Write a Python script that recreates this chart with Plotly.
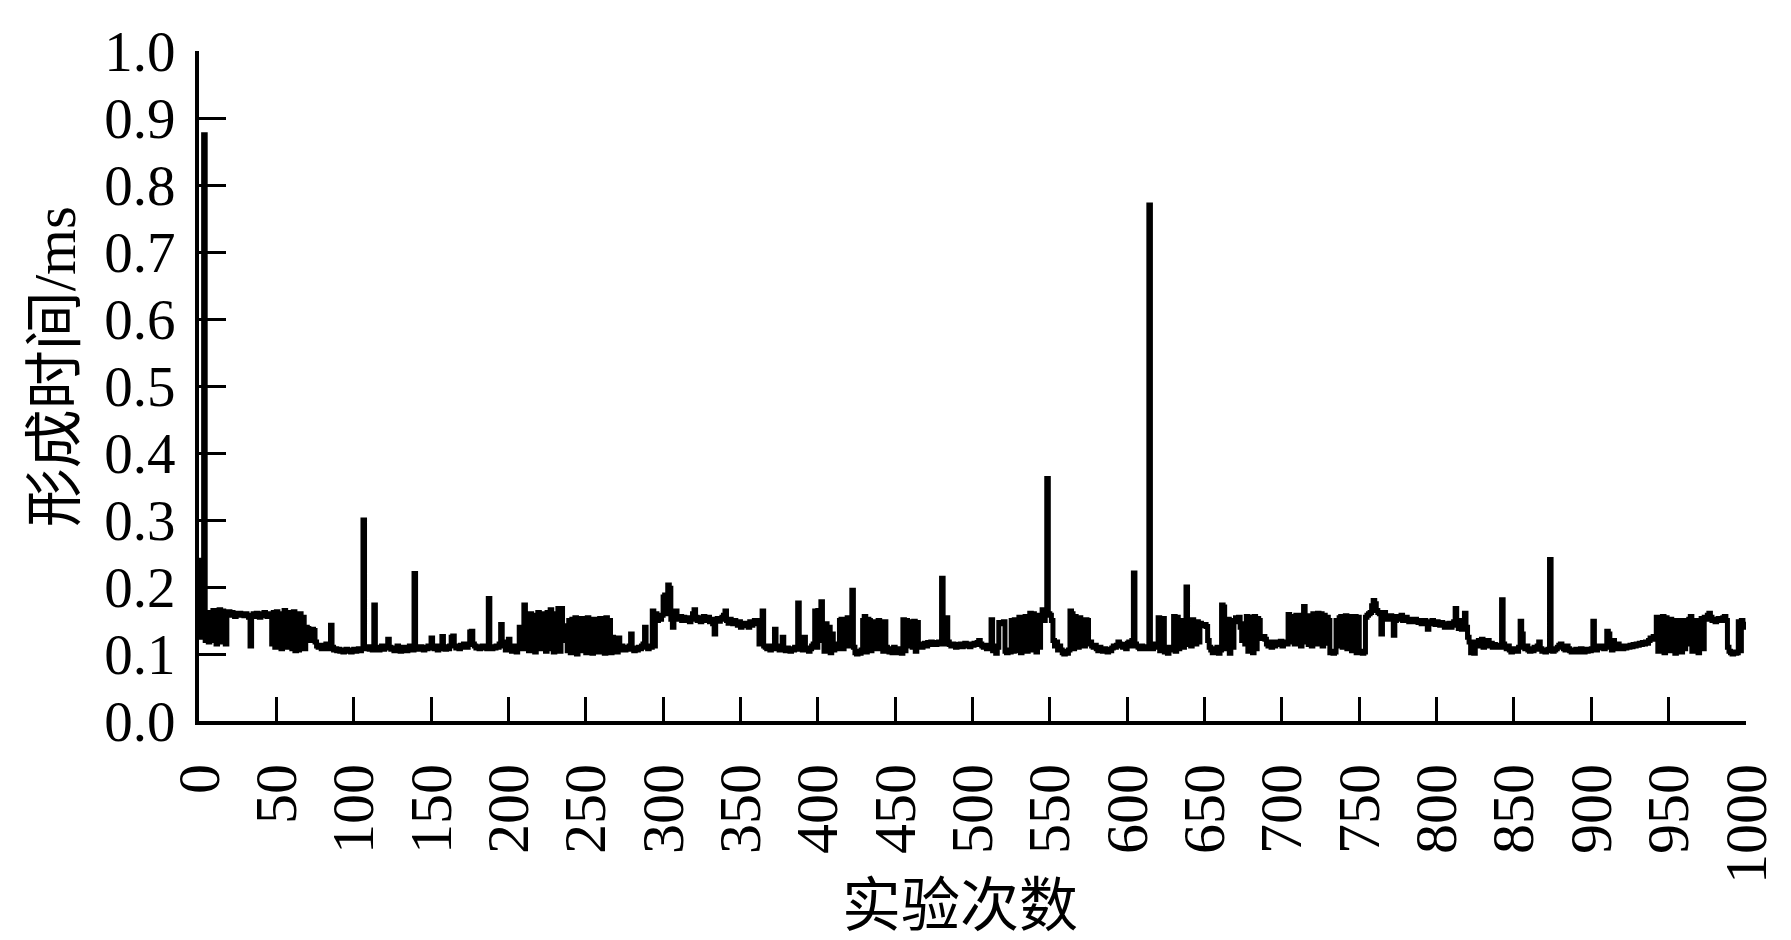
import plotly.graph_objects as go

# Experiment index (0..999)
trial_index = list(range(1000))

# Formation time (ms)
formation_time_ms = [
    0.125, 0.240, 0.130, 0.875, 0.120, 0.160, 0.118, 0.162, 0.120, 0.165, 0.163, 0.115, 0.160, 0.166, 0.118, 0.164, 0.162, 0.115, 0.160, 0.163, 0.158, 0.162, 0.160, 0.156, 0.161,
    0.159, 0.161, 0.158, 0.160, 0.157, 0.160, 0.158, 0.155, 0.112, 0.158, 0.160, 0.156, 0.161, 0.158, 0.155, 0.160, 0.157, 0.162, 0.159, 0.156, 0.160, 0.158, 0.115, 0.162, 0.110,
    0.163, 0.112, 0.160, 0.108, 0.158, 0.165, 0.110, 0.162, 0.115, 0.160, 0.108, 0.163, 0.105, 0.158, 0.106, 0.160, 0.110, 0.155, 0.108, 0.140, 0.138, 0.136, 0.120, 0.137, 0.135,
    0.118, 0.112, 0.110, 0.113, 0.108, 0.112, 0.110, 0.115, 0.108, 0.112, 0.143, 0.110, 0.106, 0.108, 0.105, 0.107, 0.104, 0.106, 0.103, 0.105, 0.107, 0.104, 0.106, 0.103, 0.105,
    0.107, 0.104, 0.106, 0.108, 0.105, 0.108, 0.300, 0.110, 0.108, 0.111, 0.107, 0.109, 0.106, 0.173, 0.108, 0.110, 0.106, 0.108, 0.112, 0.107, 0.109, 0.112, 0.122, 0.110, 0.107,
    0.109, 0.105, 0.108, 0.112, 0.106, 0.104, 0.108, 0.110, 0.107, 0.105, 0.109, 0.112, 0.108, 0.106, 0.220, 0.108, 0.110, 0.107, 0.111, 0.108, 0.106, 0.110, 0.108, 0.112, 0.109,
    0.124, 0.110, 0.108, 0.112, 0.106, 0.110, 0.108, 0.126, 0.110, 0.107, 0.111, 0.108, 0.112, 0.125, 0.127, 0.112, 0.109, 0.111, 0.108, 0.113, 0.110, 0.115, 0.112, 0.110, 0.114,
    0.133, 0.134, 0.115, 0.112, 0.109, 0.111, 0.108, 0.110, 0.112, 0.109, 0.111, 0.108, 0.183, 0.110, 0.108, 0.111, 0.109, 0.112, 0.110, 0.115, 0.144, 0.118, 0.112, 0.106, 0.110,
    0.122, 0.108, 0.104, 0.112, 0.106, 0.103, 0.110, 0.140, 0.115, 0.108, 0.173, 0.112, 0.158, 0.105, 0.160, 0.110, 0.155, 0.103, 0.158, 0.162, 0.108, 0.160, 0.112, 0.157, 0.104,
    0.162, 0.108, 0.166, 0.155, 0.103, 0.160, 0.110, 0.168, 0.104, 0.168, 0.140, 0.120, 0.142, 0.105, 0.150, 0.102, 0.152, 0.108, 0.154, 0.100, 0.150, 0.105, 0.153, 0.110, 0.148,
    0.102, 0.154, 0.106, 0.150, 0.101, 0.152, 0.108, 0.149, 0.103, 0.153, 0.105, 0.150, 0.101, 0.154, 0.108, 0.150, 0.102, 0.125, 0.108, 0.122, 0.103, 0.124, 0.106, 0.112, 0.108,
    0.106, 0.110, 0.107, 0.112, 0.130, 0.108, 0.105, 0.109, 0.106, 0.110, 0.108, 0.112, 0.115, 0.140, 0.110, 0.108, 0.112, 0.110, 0.164, 0.112, 0.160, 0.150, 0.155, 0.152, 0.158,
    0.185, 0.188, 0.160, 0.203, 0.198, 0.152, 0.140, 0.160, 0.164, 0.155, 0.152, 0.156, 0.150, 0.155, 0.153, 0.150, 0.154, 0.148, 0.152, 0.160, 0.166, 0.155, 0.150, 0.154, 0.148,
    0.152, 0.156, 0.150, 0.153, 0.155, 0.148, 0.152, 0.145, 0.130, 0.150, 0.153, 0.149, 0.152, 0.155, 0.158, 0.164, 0.150, 0.146, 0.152, 0.149, 0.145, 0.150, 0.147, 0.143, 0.148,
    0.140, 0.144, 0.146, 0.142, 0.145, 0.140, 0.148, 0.143, 0.146, 0.150, 0.148, 0.145, 0.115, 0.150, 0.164, 0.112, 0.110, 0.108, 0.112, 0.106, 0.110, 0.108, 0.137, 0.112, 0.108,
    0.106, 0.110, 0.125, 0.108, 0.105, 0.109, 0.107, 0.104, 0.108, 0.106, 0.110, 0.107, 0.176, 0.108, 0.110, 0.106, 0.125, 0.109, 0.107, 0.104, 0.108, 0.112, 0.115, 0.164, 0.110,
    0.165, 0.120, 0.178, 0.140, 0.104, 0.145, 0.110, 0.140, 0.102, 0.130, 0.106, 0.115, 0.108, 0.110, 0.150, 0.152, 0.108, 0.150, 0.112, 0.154, 0.148, 0.112, 0.195, 0.110, 0.102,
    0.100, 0.104, 0.101, 0.106, 0.150, 0.156, 0.103, 0.152, 0.150, 0.105, 0.148, 0.145, 0.148, 0.108, 0.150, 0.146, 0.147, 0.104, 0.148, 0.110, 0.106, 0.103, 0.108, 0.102, 0.110,
    0.105, 0.102, 0.108, 0.104, 0.101, 0.151, 0.105, 0.150, 0.148, 0.112, 0.115, 0.110, 0.149, 0.104, 0.147, 0.112, 0.115, 0.110, 0.113, 0.116, 0.112, 0.117, 0.114, 0.118, 0.115,
    0.117, 0.114, 0.116, 0.118, 0.115, 0.213, 0.115, 0.117, 0.154, 0.118, 0.114, 0.112, 0.115, 0.113, 0.110, 0.114, 0.112, 0.115, 0.111, 0.113, 0.116, 0.112, 0.114, 0.111, 0.115,
    0.113, 0.116, 0.114, 0.117, 0.120, 0.115, 0.112, 0.110, 0.113, 0.108, 0.111, 0.109, 0.151, 0.105, 0.112, 0.101, 0.110, 0.147, 0.146, 0.145, 0.148, 0.104, 0.102, 0.106, 0.103,
    0.150, 0.104, 0.151, 0.148, 0.105, 0.155, 0.102, 0.153, 0.110, 0.156, 0.104, 0.154, 0.161, 0.106, 0.160, 0.158, 0.103, 0.155, 0.110, 0.158, 0.166, 0.150, 0.164, 0.362, 0.160,
    0.158, 0.150, 0.120, 0.112, 0.118, 0.106, 0.112, 0.106, 0.102, 0.100, 0.104, 0.101, 0.106, 0.164, 0.160, 0.108, 0.156, 0.152, 0.110, 0.154, 0.115, 0.118, 0.112, 0.151, 0.150,
    0.115, 0.118, 0.112, 0.110, 0.113, 0.108, 0.105, 0.110, 0.107, 0.104, 0.108, 0.106, 0.103, 0.107, 0.105, 0.109, 0.112, 0.110, 0.113, 0.118, 0.115, 0.112, 0.110, 0.114, 0.108,
    0.116, 0.118, 0.112, 0.120, 0.221, 0.115, 0.112, 0.110, 0.108, 0.112, 0.109, 0.111, 0.108, 0.110, 0.770, 0.112, 0.108, 0.115, 0.112, 0.110, 0.154, 0.105, 0.152, 0.153, 0.103,
    0.110, 0.101, 0.108, 0.106, 0.110, 0.156, 0.104, 0.155, 0.108, 0.150, 0.112, 0.110, 0.114, 0.200, 0.118, 0.150, 0.112, 0.151, 0.145, 0.115, 0.148, 0.118, 0.146, 0.143, 0.142,
    0.144, 0.141, 0.120, 0.110, 0.106, 0.102, 0.108, 0.104, 0.110, 0.101, 0.106, 0.173, 0.170, 0.150, 0.108, 0.152, 0.101, 0.150, 0.110, 0.148, 0.154, 0.152, 0.155, 0.140, 0.120,
    0.145, 0.115, 0.156, 0.104, 0.155, 0.150, 0.102, 0.156, 0.108, 0.153, 0.150, 0.125, 0.123, 0.126, 0.122, 0.115, 0.112, 0.118, 0.110, 0.115, 0.112, 0.118, 0.114, 0.116, 0.119,
    0.112, 0.116, 0.118, 0.115, 0.159, 0.156, 0.118, 0.155, 0.115, 0.158, 0.116, 0.155, 0.112, 0.158, 0.171, 0.118, 0.155, 0.114, 0.157, 0.112, 0.160, 0.158, 0.115, 0.161, 0.118,
    0.160, 0.112, 0.158, 0.116, 0.155, 0.150, 0.102, 0.104, 0.101, 0.103, 0.150, 0.112, 0.154, 0.156, 0.110, 0.155, 0.157, 0.108, 0.156, 0.154, 0.105, 0.155, 0.156, 0.102, 0.155,
    0.102, 0.104, 0.101, 0.103, 0.155, 0.158, 0.160, 0.162, 0.172, 0.180, 0.175, 0.165, 0.162, 0.160, 0.130, 0.158, 0.162, 0.155, 0.152, 0.155, 0.157, 0.152, 0.128, 0.150, 0.156,
    0.152, 0.155, 0.158, 0.150, 0.153, 0.155, 0.151, 0.148, 0.152, 0.150, 0.148, 0.152, 0.149, 0.147, 0.150, 0.145, 0.148, 0.150, 0.146, 0.137, 0.148, 0.145, 0.150, 0.147, 0.144,
    0.148, 0.146, 0.143, 0.147, 0.144, 0.140, 0.145, 0.142, 0.146, 0.140, 0.143, 0.148, 0.168, 0.150, 0.138, 0.140, 0.137, 0.150, 0.161, 0.140, 0.125, 0.118, 0.102, 0.104, 0.101,
    0.118, 0.112, 0.120, 0.115, 0.122, 0.110, 0.118, 0.114, 0.120, 0.112, 0.116, 0.110, 0.114, 0.111, 0.113, 0.110, 0.112, 0.181, 0.115, 0.110, 0.108, 0.112, 0.106, 0.103, 0.108,
    0.105, 0.108, 0.104, 0.110, 0.149, 0.130, 0.110, 0.108, 0.112, 0.106, 0.104, 0.108, 0.105, 0.110, 0.107, 0.112, 0.118, 0.108, 0.104, 0.106, 0.103, 0.105, 0.107, 0.241, 0.106,
    0.104, 0.106, 0.108, 0.110, 0.113, 0.115, 0.110, 0.108, 0.106, 0.112, 0.108, 0.105, 0.103, 0.106, 0.104, 0.107, 0.103, 0.105, 0.108, 0.106, 0.103, 0.107, 0.104, 0.106, 0.105,
    0.108, 0.149, 0.112, 0.106, 0.110, 0.112, 0.109, 0.111, 0.108, 0.112, 0.134, 0.130, 0.110, 0.106, 0.120, 0.112, 0.108, 0.115, 0.110, 0.112, 0.108, 0.111, 0.109, 0.112, 0.110,
    0.113, 0.111, 0.114, 0.112, 0.115, 0.113, 0.116, 0.114, 0.117, 0.115, 0.118, 0.116, 0.120, 0.124, 0.122, 0.126, 0.123, 0.155, 0.104, 0.153, 0.110, 0.156, 0.102, 0.154, 0.150,
    0.105, 0.152, 0.108, 0.150, 0.101, 0.148, 0.112, 0.150, 0.103, 0.145, 0.108, 0.150, 0.115, 0.152, 0.156, 0.104, 0.150, 0.110, 0.148, 0.102, 0.150, 0.153, 0.108, 0.155, 0.152,
    0.158, 0.161, 0.155, 0.150, 0.152, 0.148, 0.150, 0.153, 0.150, 0.152, 0.154, 0.156, 0.150, 0.110, 0.104, 0.102, 0.100, 0.103, 0.101, 0.102, 0.148, 0.105, 0.150, 0.140, 0.148,
]

x_ticks = list(range(0, 1001, 50))
y_ticks = [0.0, 0.1, 0.2, 0.3, 0.4, 0.5, 0.6, 0.7, 0.8, 0.9, 1.0]

x_title = "实验次数"
y_title = "形成时间/ms"

serif = "Liberation Serif, Times New Roman, Noto Sans CJK SC, serif"

fig = go.Figure()
fig.add_trace(go.Scatter(
    x=trial_index,
    y=formation_time_ms,
    mode="lines",
    line=dict(color="black", width=5, shape="hv"),
    showlegend=False,
))

fig.update_layout(
    width=1783,
    height=932,
    margin=dict(l=191, r=30, t=38, b=219),
    paper_bgcolor="white",
    plot_bgcolor="white",
    font=dict(family=serif, color="black", size=56),
    annotations=[
        dict(text=y_title, textangle=-90, xref="paper", yref="paper",
             x=-0.093, y=0.528, xanchor="center", yanchor="middle",
             showarrow=False, font=dict(family=serif, size=59, color="black")),
        dict(text=x_title, xref="paper", yref="paper",
             x=0.492, y=-0.276, xanchor="center", yanchor="middle",
             showarrow=False, font=dict(family=serif, size=59, color="black")),
    ],
)

fig.update_xaxes(
    range=[0, 1000],
    tickvals=x_ticks,
    ticktext=[str(v) for v in x_ticks],
    tickangle=-90,
    ticks="inside",
    ticklen=24,
    tickwidth=3,
    tickcolor="black",
    showline=True,
    linecolor="black",
    linewidth=4,
    showgrid=False,
    zeroline=False,
    tickfont=dict(family=serif, size=60, color="black"),
    ticklabelstandoff=15,
    ticklabeloverflow="allow",
)

fig.update_yaxes(
    range=[0, 1.0],
    tickvals=y_ticks,
    ticktext=[f"{v:.1f}" for v in y_ticks],
    ticks="inside",
    ticklen=27,
    tickwidth=3,
    tickcolor="black",
    showline=True,
    linecolor="black",
    linewidth=4,
    showgrid=False,
    zeroline=False,
    tickfont=dict(family=serif, size=57, color="black"),
    ticklabelstandoff=8,
    ticklabeloverflow="allow",
)

fig.write_html("out.html")
